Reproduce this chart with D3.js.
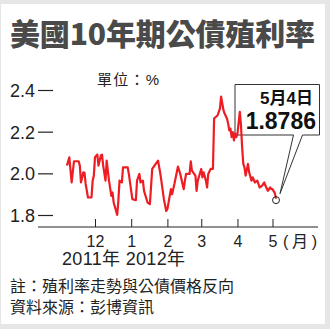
<!DOCTYPE html>
<html lang="zh-Hant">
<head>
    <meta charset="UTF-8">
    <title>美國10年期公債殖利率</title>
    <style>
    body { margin: 0; background: #e6e6e6; }
    svg { display: block; }
    .txt { font-family: "Liberation Sans", "Noto Sans CJK TC", sans-serif; fill: #222; }
    .line {
        fill: none;
        stroke: #ee1d23;
        stroke-width: 2.2px;
        stroke-linejoin: round;
    }
    </style>
</head>
<body>
    <svg width="330" height="329"></svg>
    <script src="https://d3js.org/d3.v7.min.js"></script>
    <script>

    // data (daily-ish yields, %)
    var dates = [
        "2011-11-07","2011-11-09","2011-11-11","2011-11-13","2011-11-17","2011-11-18","2011-11-19","2011-11-21",
        "2011-11-22","2011-11-23","2011-11-25","2011-11-28","2011-11-29","2011-11-30","2011-12-01","2011-12-03",
        "2011-12-04","2011-12-06","2011-12-07","2011-12-08","2011-12-10","2011-12-11","2011-12-13","2011-12-15",
        "2011-12-16","2011-12-17","2011-12-20","2011-12-21","2011-12-22","2011-12-24","2011-12-25","2011-12-29",
        "2011-12-30","2012-01-01","2012-01-02","2012-01-05","2012-01-06","2012-01-08","2012-01-09","2012-01-11",
        "2012-01-12","2012-01-15","2012-01-17","2012-01-19","2012-01-22","2012-01-24","2012-01-26","2012-01-29",
        "2012-01-31","2012-02-01","2012-02-02","2012-02-04","2012-02-05","2012-02-07","2012-02-10","2012-02-12",
        "2012-02-15","2012-02-16","2012-02-17","2012-02-20","2012-02-21","2012-02-22","2012-02-25","2012-02-26",
        "2012-02-27","2012-03-01","2012-03-02","2012-03-03","2012-03-05","2012-03-06","2012-03-07","2012-03-09",
        "2012-03-11","2012-03-12","2012-03-15","2012-03-17","2012-03-18","2012-03-20","2012-03-21","2012-03-23",
        "2012-03-24","2012-03-25","2012-03-26","2012-03-27","2012-03-28","2012-03-29","2012-03-30","2012-03-31",
        "2012-04-01","2012-04-03","2012-04-04","2012-04-05","2012-04-06","2012-04-07","2012-04-08","2012-04-10",
        "2012-04-11","2012-04-13","2012-04-14","2012-04-16","2012-04-18","2012-04-20","2012-04-22","2012-04-24",
        "2012-04-25","2012-04-27","2012-04-29","2012-04-30","2012-05-01","2012-05-03","2012-05-04"
    ];
    var yields = [
        2.037,2.077,1.956,2.058,2.058,2.037,1.956,2.005,
        2.003,1.949,1.884,1.884,1.965,1.989,2.077,2.090,
        2.037,2.086,2.090,2.037,1.965,2.061,1.965,1.892,
        1.908,1.860,1.800,1.868,1.965,1.956,2.029,2.029,
        1.997,1.916,1.876,1.871,1.965,1.997,1.956,1.965,
        1.916,1.860,1.852,2.021,2.045,2.061,1.997,1.876,
        1.819,1.828,1.860,1.924,1.900,1.949,2.032,1.997,
        1.924,1.965,1.997,1.997,2.058,2.013,1.989,1.916,
        1.965,2.021,1.981,2.005,1.965,1.932,1.997,2.021,
        2.021,2.263,2.279,2.311,2.368,2.303,2.287,2.263,
        2.239,2.206,2.215,2.174,2.198,2.158,2.191,2.174,
        2.191,2.295,2.231,2.126,2.045,2.029,1.989,2.045,
        2.005,1.965,1.981,1.956,1.965,1.932,1.940,1.956,
        1.940,1.916,1.932,1.924,1.924,1.905,1.8786
    ];
    var yTicks = [1.8, 2.0, 2.2, 2.4];
    var monthTicks = ["2011-12-01","2012-01-01","2012-02-01","2012-03-01","2012-04-01","2012-05-01"];
    var monthLabels = ["12","1","2","3","4","5"];
    var yearLabel = "2011年 2012年";
    var lastLabel = "5月4日";
    var lastValue = "1.8786";

    var parseDate = d3.timeParse("%Y-%m-%d");
    var data = dates.map(function (d, i) { return {date: parseDate(d), value: yields[i]}; });
    var ticks = monthTicks.map(parseDate);

    var svg = d3.select("svg");

    svg.append("rect")
        .attr("x", 1).attr("y", 4)
        .attr("width", 324).attr("height", 320)
        .attr("fill", "#fff");

    svg.append("text")
        .attr("x", 10).attr("y", 45)
        .attr("textLength", 305).attr("lengthAdjust", "spacing")
        .style("font-family", "'Noto Sans CJK TC', sans-serif")
        .style("font-weight", 900)
        .style("font-size", "30px")
        .style("fill", "#4a4a4a")
        .text("美國10年期公債殖利率");

    svg.append("text")
        .attr("class", "txt")
        .attr("x", 97).attr("y", 85)
        .attr("textLength", 62)
        .style("font-size", "15px")
        .text("單位：%");

    var x = d3.scaleTime()
        .domain([parseDate("2011-12-01"), parseDate("2012-05-04")])
        .range([95, 276]);

    var y = d3.scaleLinear()
        .domain([1.8, 2.4])
        .range([215, 90]);

    // y axis
    var yAxis = d3.axisLeft(y)
        .tickValues(yTicks)
        .tickSize(15)
        .tickPadding(3)
        .tickFormat(d3.format(".1f"));

    var gy = svg.append("g")
        .attr("transform", "translate(53,0)")
        .call(yAxis);
    gy.select(".domain").remove();
    gy.selectAll("line").attr("stroke", "#222").attr("stroke-width", 1.2);
    gy.selectAll("text")
        .attr("class", "txt")
        .attr("dy", "0.36em")
        .style("font-size", "18px");

    // x axis
    var xAxis = d3.axisBottom(x)
        .tickValues(ticks)
        .tickSizeInner(-8)
        .tickSizeOuter(0)
        .tickPadding(8)
        .tickFormat(function (d, i) { return monthLabels[i]; });

    var gx = svg.append("g")
        .attr("transform", "translate(0,227)")
        .call(xAxis);
    gx.select(".domain").remove();
    gx.selectAll("line").attr("stroke", "#222");
    gx.selectAll("text")
        .attr("class", "txt")
        .attr("y", 8)
        .attr("dy", "0.75em")
        .style("font-size", "16px");

    svg.append("line")
        .attr("x1", 38).attr("x2", 318)
        .attr("y1", 227).attr("y2", 227)
        .attr("stroke", "#222");

    svg.append("text")
        .attr("class", "txt")
        .attr("x", 283).attr("y", 247)
        .attr("textLength", 34)
        .attr("lengthAdjust", "spacing")
        .style("font-size", "16px")
        .text("(月)");

    svg.append("text")
        .attr("class", "txt")
        .attr("x", 62).attr("y", 265)
        .attr("textLength", 123)
        .style("font-size", "18px")
        .text(yearLabel);

    svg.append("text")
        .attr("class", "txt")
        .attr("x", 10).attr("y", 292)
        .style("font-size", "16px")
        .text("註：殖利率走勢與公債價格反向");

    svg.append("text")
        .attr("class", "txt")
        .attr("x", 10).attr("y", 313)
        .style("font-size", "16px")
        .text("資料來源：彭博資訊");

    // callout box
    var last = data[data.length - 1];
    var lx = x(last.date), ly = y(last.value);

    svg.append("path")
        .attr("d", "M235,84.5H319.5V135H302.5L" + (lx + 4) + "," + (ly - 5) + "L293.5,135H235Z")
        .attr("fill", "#fff")
        .attr("stroke", "#333")
        .attr("stroke-width", 1);

    svg.append("path")
        .datum(data)
        .attr("class", "line")
        .attr("d", d3.line()
            .x(function (d) { return x(d.date); })
            .y(function (d) { return y(d.value); }));

    svg.append("circle")
        .attr("cx", lx).attr("cy", ly + 1.5)
        .attr("r", 3.5)
        .attr("fill", "none")
        .attr("stroke", "#222")
        .attr("stroke-width", 1);

    svg.append("text")
        .attr("x", 313).attr("y", 104)
        .attr("text-anchor", "end")
        .style("font-family", "'Liberation Sans', 'Noto Sans CJK TC', sans-serif")
        .style("font-weight", "bold")
        .style("font-size", "17px")
        .style("fill", "#111")
        .text(lastLabel);

    svg.append("text")
        .attr("x", 316).attr("y", 129)
        .attr("text-anchor", "end")
        .style("font-family", "'Liberation Sans', sans-serif")
        .style("font-weight", "bold")
        .style("font-size", "23px")
        .style("fill", "#111")
        .text(lastValue);

    </script>
</body>
</html>
